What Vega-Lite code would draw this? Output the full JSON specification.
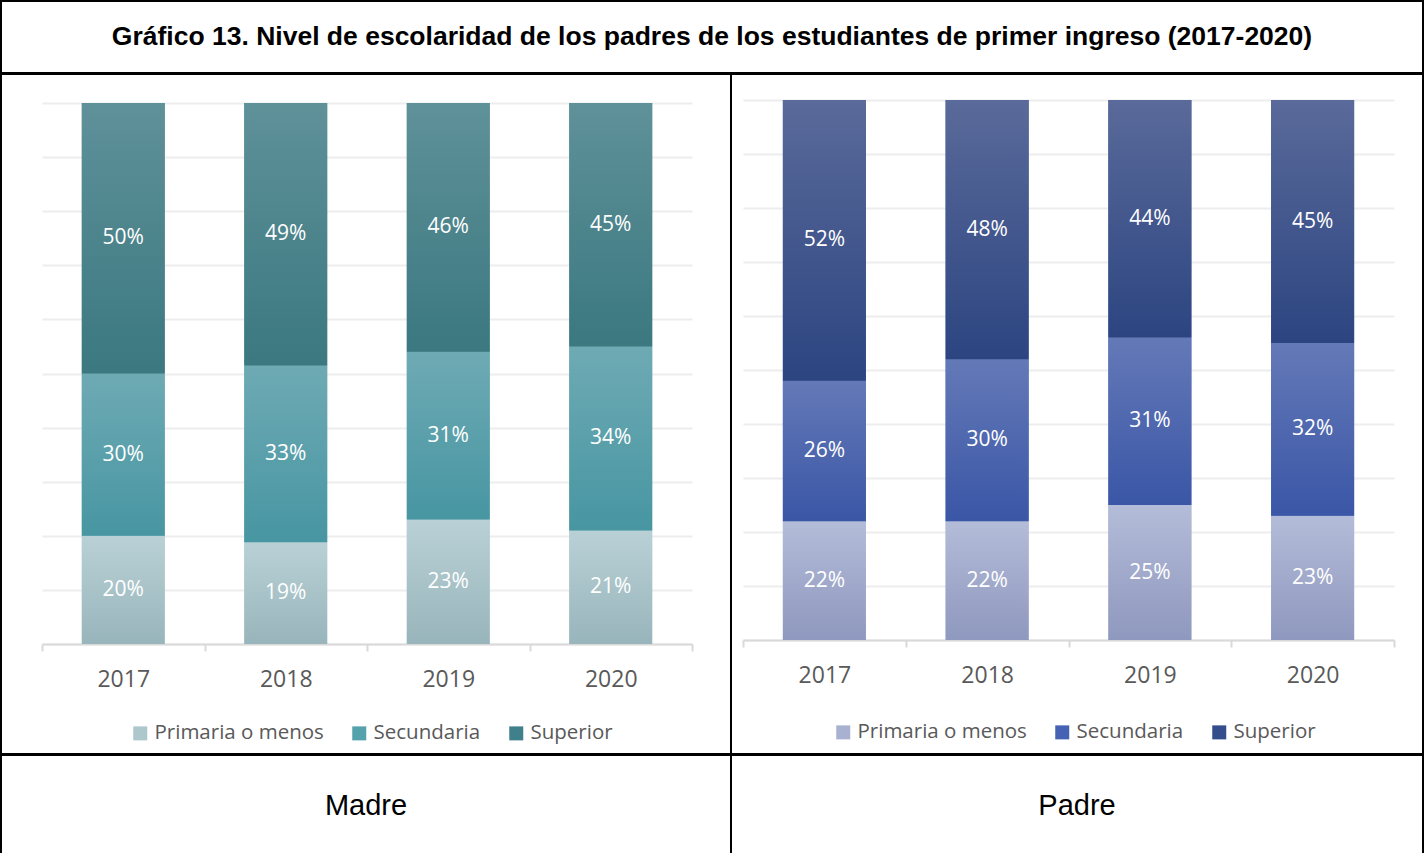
{
  "$schema": "https://vega.github.io/schema/vega-lite/v6.json",
  "background": "white",
  "padding": 0,
  "spacing": -2,
  "config": {
    "view": {"stroke": "black", "strokeWidth": 2},
    "concat": {"spacing": 0}
  },
  "resolve": {"scale": {"color": "independent"}, "legend": {"color": "independent"}},
  "datasets": {
    "madre": [
      {"year": "2017", "nivel": "Primaria o menos", "pct": 0.20},
      {"year": "2017", "nivel": "Secundaria", "pct": 0.30},
      {"year": "2017", "nivel": "Superior", "pct": 0.50},
      {"year": "2018", "nivel": "Primaria o menos", "pct": 0.19},
      {"year": "2018", "nivel": "Secundaria", "pct": 0.33},
      {"year": "2018", "nivel": "Superior", "pct": 0.49},
      {"year": "2019", "nivel": "Primaria o menos", "pct": 0.23},
      {"year": "2019", "nivel": "Secundaria", "pct": 0.31},
      {"year": "2019", "nivel": "Superior", "pct": 0.46},
      {"year": "2020", "nivel": "Primaria o menos", "pct": 0.21},
      {"year": "2020", "nivel": "Secundaria", "pct": 0.34},
      {"year": "2020", "nivel": "Superior", "pct": 0.45}
    ],
    "padre": [
      {"year": "2017", "nivel": "Primaria o menos", "pct": 0.22},
      {"year": "2017", "nivel": "Secundaria", "pct": 0.26},
      {"year": "2017", "nivel": "Superior", "pct": 0.52},
      {"year": "2018", "nivel": "Primaria o menos", "pct": 0.22},
      {"year": "2018", "nivel": "Secundaria", "pct": 0.30},
      {"year": "2018", "nivel": "Superior", "pct": 0.48},
      {"year": "2019", "nivel": "Primaria o menos", "pct": 0.25},
      {"year": "2019", "nivel": "Secundaria", "pct": 0.31},
      {"year": "2019", "nivel": "Superior", "pct": 0.44},
      {"year": "2020", "nivel": "Primaria o menos", "pct": 0.23},
      {"year": "2020", "nivel": "Secundaria", "pct": 0.32},
      {"year": "2020", "nivel": "Superior", "pct": 0.45}
    ]
  },
  "vconcat": [
    {
      "width": 1422,
      "height": 72,
      "view": {"stroke": "black", "strokeWidth": 2},
      "data": {"values": [{"t": "Gráfico 13. Nivel de escolaridad de los padres de los estudiantes de primer ingreso (2017-2020)"}]},
      "mark": {"type": "text", "font": "Liberation Sans", "fontWeight": "bold", "fontSize": 26.5, "color": "#000000"},
      "encoding": {
        "x": {"field": "t", "type": "nominal", "axis": null},
        "text": {"field": "t", "type": "nominal"}
      }
    },
    {
      "bounds": "flush",
      "spacing": 0,
      "resolve": {"scale": {"color": "independent"}, "legend": {"color": "independent"}},
      "hconcat": [
        {
          "width": 730,
          "height": 680,
          "data": {"name": "madre"},
          "transform": [
            {"stack": "pct", "groupby": ["year"], "sort": [{"field": "nivel", "order": "ascending"}], "offset": "normalize", "as": ["y0", "y1"]},
            {"calculate": "(datum.y0 + datum.y1) / 2", "as": "ymid"}
          ],
          "encoding": {
            "x": {
              "field": "year", "type": "ordinal",
              "scale": {"range": [41, 691], "paddingInner": 0, "paddingOuter": 0},
              "axis": {"orient": "bottom", "offset": -110, "title": null, "labelAngle": 0, "labelFont": "Open Sans", "labelFontSize": 23, "labelColor": "#595959", "labelPadding": 17, "domainColor": "#D9D9D9", "domainWidth": 2, "tickColor": "#D9D9D9", "tickWidth": 2, "tickSize": 7, "tickBand": "extent", "grid": false}
            }
          },
          "layer": [
            {
              "mark": {"type": "bar", "width": {"band": 0.51}},
              "encoding": {
                "y": {
                  "field": "y0", "type": "quantitative",
                  "scale": {"domain": [0, 1], "range": [570, 29], "nice": false},
                  "axis": {"title": null, "labels": false, "ticks": false, "domain": false, "grid": true, "gridColor": "#EDEDED", "gridWidth": 2, "values": [0, 0.1, 0.2, 0.3, 0.4, 0.5, 0.6, 0.7, 0.8, 0.9, 1]}
                },
                "y2": {"field": "y1"},
                "color": {
                  "field": "nivel", "type": "nominal",
                  "scale": {"domain": ["Primaria o menos", "Secundaria", "Superior"], "range": ["#ADC7CD", "#55A1AC", "#40808A"]},
                  "legend": {"orient": "none", "legendX": 129, "legendY": 649, "direction": "horizontal", "title": null, "symbolType": "square", "symbolSize": 196, "symbolStrokeWidth": 0, "labelFont": "Open Sans", "labelFontSize": 20.5, "labelColor": "#595959", "labelOffset": 4, "labelLimit": 400, "columnPadding": 25, "padding": 0}
                }
              }
            },
            {
              "mark": {"type": "bar", "width": {"band": 0.51}},
              "encoding": {
                "y": {"field": "y0", "type": "quantitative"},
                "y2": {"field": "y1"},
                "color": {
                  "condition": [
                    {"test": "datum.nivel === 'Superior'", "value": {"gradient": "linear", "x1": 0, "y1": 0, "x2": 0, "y2": 1, "stops": [{"offset": 0, "color": "#5F9199"}, {"offset": 1, "color": "#3B7880"}]}},
                    {"test": "datum.nivel === 'Secundaria'", "value": {"gradient": "linear", "x1": 0, "y1": 0, "x2": 0, "y2": 1, "stops": [{"offset": 0, "color": "#6EAAB4"}, {"offset": 1, "color": "#4796A2"}]}}
                  ],
                  "value": {"gradient": "linear", "x1": 0, "y1": 0, "x2": 0, "y2": 1, "stops": [{"offset": 0, "color": "#B9D1D6"}, {"offset": 1, "color": "#98B5BB"}]}
                }
              }
            },
            {
              "mark": {"type": "text", "font": "Open Sans", "fontSize": 21, "color": "#FFFFFF"},
              "encoding": {
                "y": {"field": "ymid", "type": "quantitative"},
                "text": {"field": "pct", "type": "quantitative", "format": ".0%"}
              }
            }
          ]
        },
        {
          "width": 692,
          "height": 680,
          "data": {"name": "padre"},
          "transform": [
            {"stack": "pct", "groupby": ["year"], "sort": [{"field": "nivel", "order": "ascending"}], "offset": "normalize", "as": ["y0", "y1"]},
            {"calculate": "(datum.y0 + datum.y1) / 2", "as": "ymid"}
          ],
          "encoding": {
            "x": {
              "field": "year", "type": "ordinal",
              "scale": {"range": [12, 663], "paddingInner": 0, "paddingOuter": 0},
              "axis": {"orient": "bottom", "offset": -114, "title": null, "labelAngle": 0, "labelFont": "Open Sans", "labelFontSize": 23, "labelColor": "#595959", "labelPadding": 17, "domainColor": "#D9D9D9", "domainWidth": 2, "tickColor": "#D9D9D9", "tickWidth": 2, "tickSize": 7, "tickBand": "extent", "grid": false}
            }
          },
          "layer": [
            {
              "mark": {"type": "bar", "width": {"band": 0.51}},
              "encoding": {
                "y": {
                  "field": "y0", "type": "quantitative",
                  "scale": {"domain": [0, 1], "range": [566, 26], "nice": false},
                  "axis": {"title": null, "labels": false, "ticks": false, "domain": false, "grid": true, "gridColor": "#EDEDED", "gridWidth": 2, "values": [0, 0.1, 0.2, 0.3, 0.4, 0.5, 0.6, 0.7, 0.8, 0.9, 1]}
                },
                "y2": {"field": "y1"},
                "color": {
                  "field": "nivel", "type": "nominal",
                  "scale": {"domain": ["Primaria o menos", "Secundaria", "Superior"], "range": ["#A8B1D0", "#4563B2", "#344D8C"]},
                  "legend": {"orient": "none", "legendX": 102, "legendY": 648, "direction": "horizontal", "title": null, "symbolType": "square", "symbolSize": 196, "symbolStrokeWidth": 0, "labelFont": "Open Sans", "labelFontSize": 20.5, "labelColor": "#595959", "labelOffset": 4, "labelLimit": 400, "columnPadding": 25, "padding": 0}
                }
              }
            },
            {
              "mark": {"type": "bar", "width": {"band": 0.51}},
              "encoding": {
                "y": {"field": "y0", "type": "quantitative"},
                "y2": {"field": "y1"},
                "color": {
                  "condition": [
                    {"test": "datum.nivel === 'Superior'", "value": {"gradient": "linear", "x1": 0, "y1": 0, "x2": 0, "y2": 1, "stops": [{"offset": 0, "color": "#5A6A9A"}, {"offset": 1, "color": "#2C4581"}]}},
                    {"test": "datum.nivel === 'Secundaria'", "value": {"gradient": "linear", "x1": 0, "y1": 0, "x2": 0, "y2": 1, "stops": [{"offset": 0, "color": "#6479B7"}, {"offset": 1, "color": "#3A56A6"}]}}
                  ],
                  "value": {"gradient": "linear", "x1": 0, "y1": 0, "x2": 0, "y2": 1, "stops": [{"offset": 0, "color": "#B3BCD8"}, {"offset": 1, "color": "#8F98BE"}]}
                }
              }
            },
            {
              "mark": {"type": "text", "font": "Open Sans", "fontSize": 21, "color": "#FFFFFF"},
              "encoding": {
                "y": {"field": "ymid", "type": "quantitative"},
                "text": {"field": "pct", "type": "quantitative", "format": ".0%"}
              }
            }
          ]
        }
      ]
    },
    {
      "bounds": "flush",
      "spacing": 0,
      "hconcat": [
        {
          "width": 730,
          "height": 101,
          "view": {"stroke": "black", "strokeWidth": 2},
          "data": {"values": [{"t": "Madre"}]},
          "mark": {"type": "text", "font": "Liberation Sans", "fontSize": 29, "color": "#000000"},
          "encoding": {
            "x": {"field": "t", "type": "nominal", "axis": null},
            "text": {"field": "t", "type": "nominal"}
          }
        },
        {
          "width": 692,
          "height": 101,
          "view": {"stroke": "black", "strokeWidth": 2},
          "data": {"values": [{"t": "Padre"}]},
          "mark": {"type": "text", "font": "Liberation Sans", "fontSize": 29, "color": "#000000"},
          "encoding": {
            "x": {"field": "t", "type": "nominal", "axis": null},
            "text": {"field": "t", "type": "nominal"}
          }
        }
      ]
    }
  ]
}
